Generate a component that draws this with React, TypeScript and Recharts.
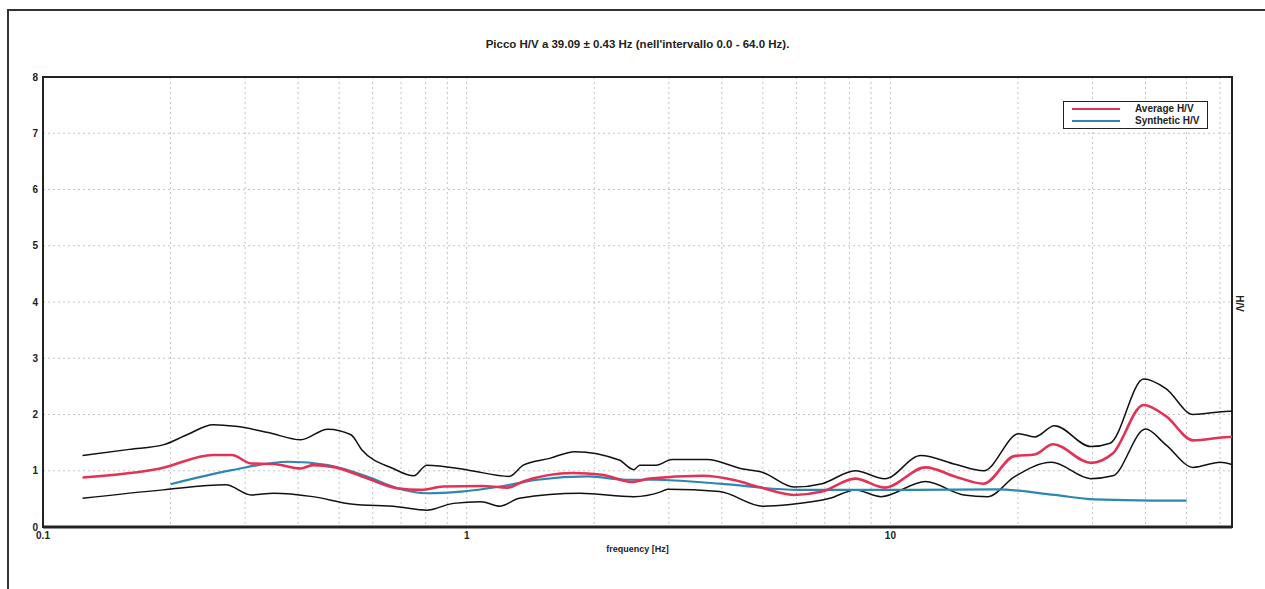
import React from 'react';
import {
  LineChart,
  Line,
  XAxis,
  YAxis,
  CartesianGrid,
  ReferenceArea,
} from 'recharts';

// frequencies [Hz] and H/V values
const upperFreq = [0.124, 0.16, 0.192, 0.22, 0.252, 0.285, 0.34, 0.406, 0.47, 0.533, 0.566, 0.67, 0.75, 0.805, 1.01, 1.26, 1.36, 1.57, 1.8, 2.29, 2.48, 2.56, 2.8, 3.05, 3.69, 4.49, 5.0, 5.92, 6.9, 8.26, 9.7, 11.8, 14.3, 16.6, 20.1, 21.9, 24.4, 29.7, 33, 39.6, 44.7, 51.8, 63, 64];
const upperHV = [1.27, 1.38, 1.46, 1.65, 1.82, 1.79, 1.68, 1.55, 1.74, 1.64, 1.37, 1.04, 0.91, 1.1, 1.01, 0.9, 1.1, 1.22, 1.34, 1.19, 1.02, 1.1, 1.1, 1.2, 1.2, 1.03, 0.97, 0.71, 0.77, 1.0, 0.86, 1.27, 1.11, 1.0, 1.66, 1.6, 1.8, 1.43, 1.49, 2.63, 2.46, 2.0, 2.06, 2.06];

const avgFreq = [0.124, 0.189, 0.252, 0.279, 0.31, 0.35, 0.406, 0.433, 0.49, 0.58, 0.685, 0.78, 0.88, 1.08, 1.25, 1.36, 1.78, 2.09, 2.45, 2.7, 3.6, 4.3, 4.9, 5.92, 6.9, 8.26, 9.7, 12.1, 14.3, 16.6, 19.6, 21.9, 24.2, 29.7, 33.5, 39.6, 44.7, 51.8, 63, 64];
const avgHV = [0.88, 1.04, 1.28, 1.28, 1.13, 1.12, 1.04, 1.1, 1.06, 0.87, 0.69, 0.66, 0.72, 0.73, 0.7, 0.81, 0.96, 0.93, 0.8, 0.86, 0.91, 0.83, 0.71, 0.57, 0.63, 0.86, 0.7, 1.06, 0.89, 0.77, 1.26, 1.29, 1.47, 1.14, 1.31, 2.17, 1.97, 1.54, 1.6, 1.6];

const lowerFreq = [0.124, 0.192, 0.27, 0.31, 0.35, 0.433, 0.533, 0.685, 0.805, 0.93, 1.08, 1.2, 1.33, 1.85, 2.48, 2.86, 2.98, 3.95, 5.0, 5.8, 7.2, 8.26, 9.5, 12.1, 14.9, 17, 19.6, 24, 29.7, 33.5, 40, 44.7, 51.8, 60, 64];
const lowerHV = [0.51, 0.66, 0.75, 0.57, 0.6, 0.54, 0.41, 0.36, 0.3, 0.42, 0.45, 0.37, 0.51, 0.6, 0.54, 0.62, 0.67, 0.63, 0.37, 0.4, 0.51, 0.66, 0.54, 0.81, 0.57, 0.54, 0.89, 1.15, 0.86, 0.91, 1.74, 1.46, 1.06, 1.15, 1.11];

const synthFreq = [0.2, 0.279, 0.38, 0.47, 0.58, 0.685, 0.805, 0.97, 1.2, 1.47, 1.94, 2.38, 2.8, 3.95, 6.05, 8.2, 11.5, 17.8, 24.4, 30.3, 41.7, 50];
const synthHV = [0.76, 1.01, 1.16, 1.1, 0.9, 0.69, 0.6, 0.63, 0.72, 0.84, 0.9, 0.84, 0.84, 0.77, 0.66, 0.66, 0.66, 0.67, 0.57, 0.49, 0.47, 0.47];

const gridFreq = [0.1, 0.2, 0.3, 0.4, 0.5, 0.6, 0.7, 0.8, 0.9, 1, 2, 3, 4, 5, 6, 7, 8, 9, 10, 20, 30, 40, 50, 60];
const labelFreq = [0.1, 1, 10];
const yTicks = [0, 1, 2, 3, 4, 5, 6, 7, 8];

const toPoints = (fs: number[], vs: number[]) => fs.map((f, i) => ({ f, v: vs[i] }));

const upperData = toPoints(upperFreq, upperHV);
const avgData = toPoints(avgFreq, avgHV);
const lowerData = toPoints(lowerFreq, lowerHV);
const synthData = toPoints(synthFreq, synthHV);

const FONT = '"Liberation Sans Narrow", "Liberation Sans", Arial, sans-serif';
const tickStyle = { fontSize: 10, fontWeight: 700, fill: '#222', fontFamily: FONT };

export default function App() {
  return (
    <div
      style={{
        position: 'fixed',
        left: 0,
        top: 0,
        width: 1265,
        height: 589,
        overflow: 'hidden',
        background: '#fff',
        fontFamily: FONT,
      }}
    >
      {/* outer frame */}
      <div
        style={{
          position: 'absolute',
          left: 7,
          top: 9,
          width: 1320,
          height: 700,
          border: '2px solid #333',
        }}
      />
      <LineChart
        width={1265}
        height={589}
        margin={{ top: 77, right: 33, bottom: 0, left: 0 }}
        style={{ position: 'absolute', left: 0, top: 0 }}
      >
        <CartesianGrid stroke="#c4c4c4" strokeDasharray="2 3" />
        <XAxis
          type="number"
          dataKey="f"
          scale="log"
          domain={[0.1, 64]}
          allowDataOverflow
          ticks={gridFreq}
          interval={0}
          tickFormatter={(f: number) => (labelFreq.includes(f) ? String(f) : '')}
          tickLine={false}
          tickSize={3}
          height={62}
          stroke="#222"
          strokeWidth={3}
          tick={tickStyle}
        />
        <YAxis
          type="number"
          dataKey="v"
          domain={[0, 8]}
          ticks={yTicks}
          interval={0}
          tickLine={false}
          tickSize={3}
          width={43}
          stroke="#222"
          tick={tickStyle}
        />
        <ReferenceArea x1={0.1} x2={64} y1={0} y2={8} fill="none" stroke="#222" strokeWidth={2} ifOverflow="visible" />
        <Line data={upperData} dataKey="v" type="monotone" stroke="#111" strokeWidth={1.5} dot={false} isAnimationActive={false} />
        <Line data={lowerData} dataKey="v" type="monotone" stroke="#111" strokeWidth={1.5} dot={false} isAnimationActive={false} />
        <Line data={synthData} dataKey="v" type="monotone" stroke="#2e86b2" strokeWidth={2.2} dot={false} isAnimationActive={false} />
        <Line data={avgData} dataKey="v" type="monotone" stroke="#e23357" strokeWidth={2.6} dot={false} isAnimationActive={false} />
      </LineChart>

      {/* title */}
      <div
        style={{
          position: 'absolute',
          left: 0,
          width: 1275,
          top: 38,
          textAlign: 'center',
          fontSize: 11.5,
          fontWeight: 700,
          color: '#222',
        }}
      >
        Picco H/V a 39.09 ± 0.43 Hz (nell'intervallo 0.0 - 64.0 Hz).
      </div>

      {/* x axis label */}
      <div
        style={{
          position: 'absolute',
          left: 0,
          width: 1275,
          top: 544,
          textAlign: 'center',
          fontSize: 9,
          fontWeight: 700,
          color: '#222',
        }}
      >
        frequency [Hz]
      </div>

      {/* right axis label */}
      <div
        style={{
          position: 'absolute',
          left: 1226,
          top: 298,
          width: 26,
          textAlign: 'center',
          fontSize: 10,
          fontWeight: 700,
          color: '#222',
          transform: 'rotate(90deg)',
        }}
      >
        H/V
      </div>

      {/* legend */}
      <div
        style={{
          position: 'absolute',
          left: 1063,
          top: 101,
          width: 143,
          height: 26,
          border: '1.5px solid #222',
          background: '#fff',
          fontSize: 10,
          fontWeight: 700,
          color: '#222',
        }}
      >
        {[
          { name: 'Average H/V', color: '#e23357' },
          { name: 'Synthetic H/V', color: '#2e86b2' },
        ].map((item, i) => (
          <div
            key={item.name}
            style={{ position: 'absolute', left: 0, top: 1 + i * 12, height: 12, display: 'flex', alignItems: 'center' }}
          >
            <div style={{ marginLeft: 8, width: 48, height: 2.5, background: item.color }} />
            <span style={{ marginLeft: 15, lineHeight: '12px' }}>{item.name}</span>
          </div>
        ))}
      </div>
    </div>
  );
}
